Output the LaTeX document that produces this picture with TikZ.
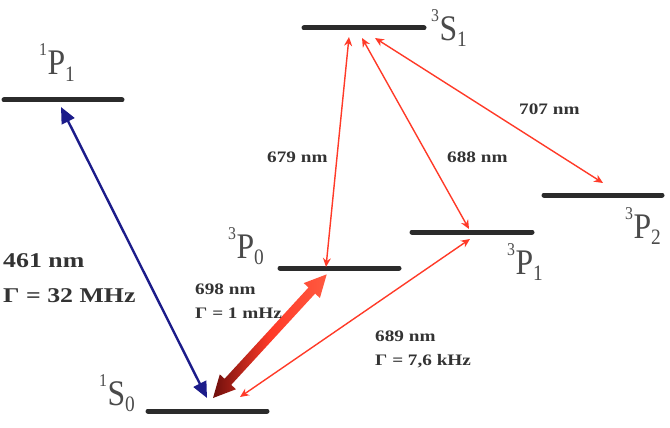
\documentclass[tikz,border=0pt]{standalone}
\usepackage{fontspec}
\setmainfont{Liberation Serif}
\usetikzlibrary{arrows.meta}
\definecolor{lvl}{HTML}{2B2B2B}
\definecolor{lbl}{HTML}{4A4A4A}
\definecolor{txt}{HTML}{333333}
\definecolor{blu}{HTML}{1C1C8A}
\definecolor{rd}{HTML}{FF3A28}
\definecolor{rdd}{HTML}{6E0F0C}
\definecolor{rdb}{HTML}{FF5A40}
\newcommand\termname[3]{\raisebox{19pt}{\fontsize{18}{18}\selectfont #1}\kern0.5pt#2\raisebox{-6pt}{\fontsize{22}{22}\selectfont #3}}
\begin{document}
\begin{tikzpicture}[x=1pt,y=-1pt,
  levelbar/.style={draw=lvl, line width=5pt, line cap=round},
  termlbl/.style={text=lbl, font=\fontsize{36}{36}\selectfont, xscale=0.88, inner sep=0pt, anchor=base west},
  biglbl/.style={text=txt, font=\fontsize{21}{25}\selectfont\bfseries, xscale=1.23, inner sep=0pt, anchor=west},
  smlbl/.style={text=txt, font=\fontsize{16}{20}\selectfont\bfseries, xscale=1.2, inner sep=0pt, anchor=west},
  redarr/.style={draw=rd, line width=1.4pt, {Stealth[length=9pt,width=8pt]}-{Stealth[length=9pt,width=8pt]}},
  bluearr/.style={draw=blu, line width=2.4pt, {Triangle[length=16pt,width=14pt]}-{Triangle[length=16pt,width=14pt]}},
  ]
\useasboundingbox (0,0) rectangle (670,428);
% energy levels
\draw[levelbar] (4,100) coordinate (P1a) -- (122,100) coordinate (P1b);
\draw[levelbar] (304,28) coordinate (S1a) -- (424,28) coordinate (S1b);
\draw[levelbar] (280,268) coordinate (P0a) -- (399,268) coordinate (P0b);
\draw[levelbar] (412,232) coordinate (P1ta) -- (532,232) coordinate (P1tb);
\draw[levelbar] (544,195) coordinate (P2a) -- (662,195) coordinate (P2b);
\draw[levelbar] (148,411) coordinate (S0a) -- (267,411) coordinate (S0b);
% level names
\node[termlbl] (nP1) at (39,75) {\termname{1}{P}{1}};
\node[termlbl] (nS1) at (431,41) {\termname{3}{S}{1}};
\node[termlbl] (nP0) at (228,258) {\termname{3}{P}{0}};
\node[termlbl] (nP1t) at (507,274) {\termname{3}{P}{1}};
\node[termlbl] (nP2) at (625,238) {\termname{3}{P}{2}};
\node[termlbl] (nS0) at (99,405) {\termname{1}{S}{0}};
% arrow end points
\coordinate (bS0) at (207,398);
\coordinate (bP1) at (61,107);
\coordinate (t679) at (349,37);
\coordinate (e679) at (326,267);
\coordinate (t688) at (362,38);
\coordinate (e688) at (469,229);
\coordinate (t707) at (375,38);
\coordinate (e707) at (603,183);
\coordinate (l689) at (240,397);
\coordinate (u689) at (470,239);
% transitions
\draw[bluearr] (bS0) -- (bP1);
\draw[redarr] (t679) -- (e679);
\draw[redarr] (t688) -- (e688);
\draw[redarr] (t707) -- (e707);
\draw[redarr] (l689) -- (u689);
% clock transition (shaded double arrow)
\begin{scope}[shift={(213,398)}, rotate=47.4]
\shade[left color=rdd, right color=rdb, middle color=rd]
  (0,0) -- (22,11) -- (22,4.5) -- (146,4.5) -- (146,11) -- (168,0)
  -- (146,-11) -- (146,-4.5) -- (22,-4.5) -- (22,-11) -- cycle;
\end{scope}
% labels
\node[biglbl] (w461) at (3,261) {461 nm};
\node[biglbl] (g461) at (3,296) {Γ = 32 MHz};
\node[smlbl] (w679) at (267,157) {679 nm};
\node[smlbl] (w688) at (447,157) {688 nm};
\node[smlbl] (w707) at (519,109) {707 nm};
\node[smlbl] (w698) at (195,289) {698 nm};
\node[smlbl] (g698) at (195,313) {Γ = 1 mHz};
\node[smlbl] (w689) at (375,336) {689 nm};
\node[smlbl] (g689) at (375,361) {Γ = 7,6 kHz};
\end{tikzpicture}
\end{document}
